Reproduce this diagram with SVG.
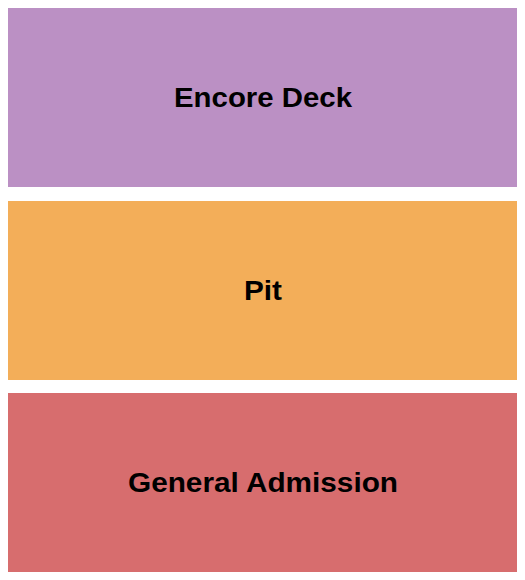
<svg xmlns="http://www.w3.org/2000/svg" width="525" height="580" viewBox="0 0 525 580">
<style>
.lbl{font-family:"Liberation Sans",Arial,sans-serif;font-weight:bold;font-size:28px;fill:#000;text-anchor:middle}
</style>
<rect width="525" height="580" fill="#fff"/>
<g id="encore-deck">
<rect x="8" y="8" width="509" height="179" fill="#BB90C4"/>
<text class="lbl" x="263" y="107" textLength="178" lengthAdjust="spacingAndGlyphs">Encore Deck</text>
</g>
<g id="pit">
<rect x="8" y="201" width="509" height="179" fill="#F3AE59"/>
<text class="lbl" x="263" y="300" textLength="38" lengthAdjust="spacingAndGlyphs">Pit</text>
</g>
<g id="general-admission">
<rect x="8" y="393" width="509" height="179" fill="#D76D6E"/>
<text class="lbl" x="263" y="492" textLength="270" lengthAdjust="spacingAndGlyphs">General Admission</text>
</g>
<g id="connectors"/>
</svg>
